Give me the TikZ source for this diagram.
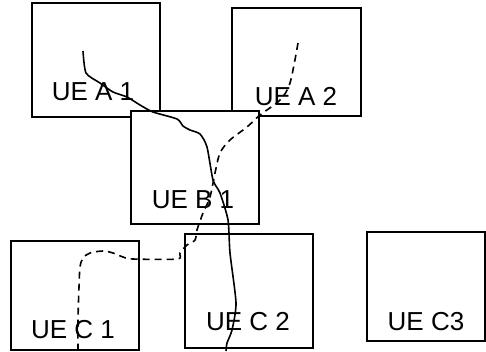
\documentclass[tikz,border=0pt]{standalone}
\usepackage{fontspec}
\setmainfont{Liberation Sans}
\begin{document}
\begin{tikzpicture}[x=1pt,y=-1pt,
  uebox/.style={draw=black,line width=1.6pt},
  uelabel/.style={font=\fontsize{26}{30}\selectfont,inner sep=0pt,anchor=base},
  path1/.style={line width=1.6pt},
  path2/.style={line width=1.6pt,dash pattern=on 7pt off 5pt}]
\useasboundingbox (0,0) rectangle (486,351);
\fill[white] (0,0) rectangle (486,351);
% boxes
\draw[uebox] (32,3) rectangle (160,117);
\draw[uebox] (232,8) rectangle (361,116);
\draw[uebox,fill=white] (131,111) rectangle (259,224);
\draw[uebox] (11,241) rectangle (139,350);
\draw[uebox] (185,234) rectangle (313,348);
\draw[uebox] (367,232) rectangle (485,341);
% labels
\node[uelabel] (a1) at (93,100) {UE A 1};
\node[uelabel] (a2) at (296,105) {UE A 2};
\node[uelabel] (b1) at (193,208) {UE B 1};
\node[uelabel] (c1) at (73,338) {UE C 1};
\node[uelabel] (c2) at (248,330) {UE C 2};
\node[uelabel] (c3) at (426,330) {UE C3};
% solid path
\draw[path1] plot[smooth,tension=0.4] coordinates {(83,51) (86,73) (100,83) (113,92) (127,97) (140,105) (153,112) (177,119) (183,126) (190,130) (200,134) (207,147) (213,180) (220,193) (228,220) (230,253) (236,303) (232,330) (227,343) (226,351)};
% dashed path
\draw[path2] plot[smooth,tension=0.5] coordinates {(298,43) (290,83) (280,100) (260,115) (247,127) (230,140) (220,153) (215,173) (210,197) (203,213) (197,230) (195,240) (187,245) (180,253) (177,259) (133,259) (123,257) (113,253) (103,251) (90,253) (83,258) (80,267) (79,287) (78,320) (78,351)};
\end{tikzpicture}
\end{document}
